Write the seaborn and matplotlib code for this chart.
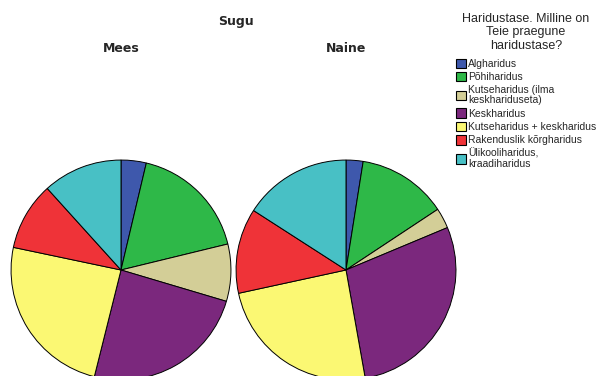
import matplotlib
matplotlib.use("Agg")
import matplotlib.pyplot as plt
from matplotlib.patches import Patch
import seaborn as sns

categories = ["Algharidus", "Põhiharidus", "Kutseharidus (ilma\nkeskhariduseta)",
              "Keskharidus", "Kutseharidus + keskharidus", "Rakenduslik kõrgharidus",
              "Ülikooliharidus,\nkraadiharidus"]
mees = [3.7, 17.5, 8.4, 24.3, 24.4, 10.0, 11.7]
naine = [2.5, 13.2, 3.0, 28.5, 24.4, 12.5, 15.9]
colors = ["#3e58ac", "#2eb848", "#d3ce97", "#7b287d", "#fbf873", "#ef3338", "#48c0c5"]

sns.set_theme(style="white")
plt.rcParams['font.family'] = ['DejaVu Sans']
palette = sns.color_palette(colors)

W, H = 598, 376
fig = plt.figure(figsize=(W / 100, H / 100), dpi=100)

def add_pie(cx, cy, r, vals, label):
    ax = fig.add_axes([(cx - r) / W, (H - cy - r) / H, 2 * r / W, 2 * r / H])
    ax.pie(vals, colors=palette, startangle=90, counterclock=False,
           wedgeprops=dict(edgecolor="black", linewidth=0.7))
    ax.set_xlim(-1.005, 1.005)
    ax.set_ylim(-1.005, 1.005)
    ax.set_aspect("auto")
    ax.axis("off")
    fig.text(cx / W, 1 - 48 / H, label, ha="center", va="center",
             fontsize=9, fontweight="bold")
    return ax

add_pie(121, 270, 110.5, mees, "Mees")
add_pie(346, 270, 110.5, naine, "Naine")

fig.text(236 / W, 1 - 21 / H, "Sugu", ha="center", va="center",
         fontsize=9, fontweight="bold")

handles = [Patch(facecolor=c, edgecolor="black", linewidth=0.8) for c in palette]
leg = fig.legend(handles, categories, loc="upper left",
                 bbox_to_anchor=(456 / W, 1 - 13 / H),
                 title="Haridustase. Milline on\nTeie praegune\nharidustase?",
                 frameon=False, borderpad=0, borderaxespad=0,
                 prop={'family': 'Liberation Sans', 'size': 7.5},
                 handlelength=0.95, handleheight=1.0, handletextpad=0.2,
                 labelspacing=0.3)
leg.get_title().set_fontfamily('Liberation Sans')
leg.get_title().set_fontsize(9)
leg.get_title().set_multialignment('center')
leg.get_title().set_linespacing(1.15)
leg._legend_box.sep = 5
for t in leg.get_texts():
    t.set_linespacing(1.0)

fig.savefig("out.png", dpi=100)
